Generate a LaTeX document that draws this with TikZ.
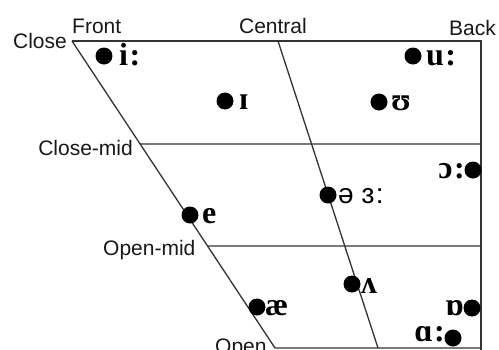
\documentclass[tikz,border=0pt]{standalone}
\usepackage{fontspec}
\setmainfont{Liberation Sans}
\newfontfamily\ipaserif{Liberation Serif}
\newfontfamily\ipasans{Liberation Sans}
\usetikzlibrary{calc}
\newcommand{\lng}{\kern1.5pt{:}}
\tikzset{
  grid line/.style={draw=black!80, line width=1.3pt},
  axis label/.style={font=\fontsize{21}{23}\selectfont, inner sep=0pt, text=black!90},
  vdot/.style={circle, fill=black, minimum size=17pt, inner sep=0pt},
  vlab/.style={font=\ipaserif\bfseries\fontsize{32}{34}\selectfont, inner sep=0pt},
  vlabsans/.style={font=\ipasans\fontsize{28}{30}\selectfont, inner sep=0pt}
}
\begin{document}
\begin{tikzpicture}[x=1pt,y=-1pt]
\useasboundingbox (0,0) rectangle (499,349);
\fill[white] (0,0) rectangle (499,349);
\clip (0,0) rectangle (499,349);
% frame coordinates
\coordinate (TL) at (72,41);
\coordinate (TR) at (481,41);
\coordinate (BR) at (481,348);
\coordinate (BL) at (275,348);
\coordinate (CT) at (278,41);
\coordinate (CB) at (378,348);
\coordinate (BRX) at (481,352);
\coordinate (cmL) at ($(TL)!{103/307}!(BL)$);
\coordinate (cmR) at (481,144);
\coordinate (omL) at ($(TL)!{205/307}!(BL)$);
\coordinate (omR) at (481,246);
% lines
\draw[grid line] (TL) -- (TR) -- (BRX);
\draw[grid line] (TL) -- (BL) -- (BR);
\draw[grid line] (CT) -- (CB);
\draw[grid line] (cmL) -- (cmR);
\draw[grid line] (omL) -- (omR);
% axis labels
\node[axis label, anchor=base east] (close) at (67,48) {Close};
\node[axis label, anchor=base west] (front) at (72,33) {Front};
\node[axis label, anchor=base east] (central) at (307,33) {Central};
\node[axis label, anchor=base east] (back) at (496,35) {Back};
\node[axis label, anchor=base east] (closemid) at (133,155) {Close-mid};
\node[axis label, anchor=base west] (openmid) at (103,255) {Open-mid};
\node[axis label, anchor=base west] (open) at (215,353) {Open};
% vowels
\node[vdot] (d1) at (104,56) {};
\node[vlab, anchor=base west] (l1) at (119,65) {i\lng};
\node[vdot] (d2) at (225,101) {};
\node[vlab, anchor=base west] (l2) at (239,109) {ɪ};
\node[vdot] (d3) at (413,56) {};
\node[vlab, anchor=base west] (l3) at (426,65) {u\lng};
\node[vdot] (d4) at (379,102) {};
\node[vlab, anchor=base west] (l4) at (391,110) {ʊ};
\node[vdot] (d5) at (473,170) {};
\node[vlab, anchor=base east] (l5) at (465,178) {ɔ\lng};
\node[vdot] (d6) at (328,195) {};
\node[vlabsans, anchor=base west] (l6) at (338,203) {ə ɜ\lng};
\node[vdot] (d7) at (190,215) {};
\node[vlab, anchor=base west] (l7) at (202,223) {e};
\node[vdot] (d8) at (352,284) {};
\node[vlab, anchor=base west] (l8) at (361,293) {ʌ};
\node[vdot] (d9) at (257,307) {};
\node[vlab, anchor=base west] (l9) at (265,315) {æ};
\node[vdot] (d10) at (472,308) {};
\node[vlab, anchor=base east] (l10) at (464,315) {ɒ};
\node[vdot] (d11) at (453,338) {};
\node[vlab, anchor=base east] (l11) at (445,341) {ɑ\lng};
\end{tikzpicture}
\end{document}
